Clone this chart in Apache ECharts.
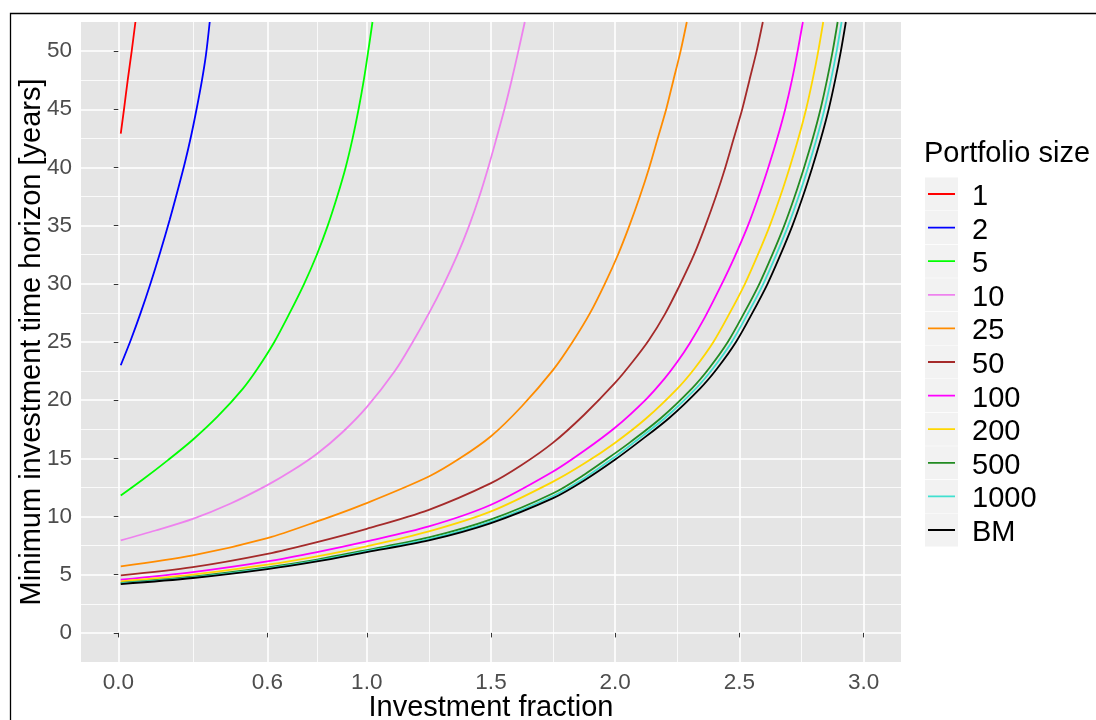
<!DOCTYPE html>
<html><head><meta charset="utf-8">
<script src="https://cdn.jsdelivr.net/npm/echarts@6/dist/echarts.min.js"></script>
<style>html,body{margin:0;padding:0;background:#fff}#c{width:1096px;height:720px}</style>
</head><body><div id="c"></div>
<script>
const seriesNames = ['1','2','5','10','25','50','100','200','500','1000','BM'];
const seriesColors = ['#FF0000','#0000FF','#00FF00','#EE82EE','#FF8C00','#A52A2A','#FF00FF','#FFD700','#228B22','#40E0D0','#000000'];

const p1 = [[0.01,42.9],[0.023,45],[0.038,47.5],[0.054,50],[0.069,52.5]];
const p2 = [[0.01,23.0],[0.05,25.15],[0.09,27.5],[0.13,30.05],[0.17,32.8],[0.207,35.5],[0.24,38.1],[0.268,40.4],[0.293,42.7],[0.315,45],[0.336,47.4],[0.353,49.7],[0.368,52.5]];
const p5 = [[0.01,11.8],[0.1,13.2],[0.2,14.85],[0.3,16.6],[0.4,18.6],[0.5,20.95],[0.56,22.7],[0.628,25],[0.69,27.5],[0.748,30],[0.799,32.5],[0.843,35],[0.881,37.5],[0.915,40],[0.943,42.5],[0.967,45],[0.988,47.5],[1.006,50],[1.023,52.5]];
const p10 = [[0.01,7.95],[0.15,8.8],[0.3,9.8],[0.45,11.1],[0.6,12.7],[0.7,13.95],[0.8,15.4],[0.9,17.2],[1.0,19.4],[1.113,22.5],[1.185,25],[1.251,27.5],[1.311,30],[1.365,32.5],[1.412,35],[1.453,37.5],[1.489,40],[1.522,42.5],[1.554,45],[1.583,47.5],[1.61,50],[1.636,52.5]];
const p25 = [[0.01,5.72],[0.3,6.66],[0.6,8.15],[0.8,9.58],[1.0,11.16],[1.25,13.44],[1.375,15.0],[1.5,16.9],[1.625,19.5],[1.75,22.6],[1.828,25],[1.899,27.5],[1.958,30],[2.011,32.5],[2.057,35],[2.099,37.5],[2.137,40],[2.171,42.5],[2.205,45],[2.234,47.5],[2.263,50],[2.288,52.5]];
const p50 = [[0.01,4.95],[0.3,5.66],[0.6,6.8],[0.8,7.81],[1.0,8.95],[1.25,10.58],[1.5,12.87],[1.625,14.45],[1.75,16.35],[1.875,18.75],[2.0,21.5],[2.07,23.3],[2.135,25.15],[2.2,27.4],[2.26,29.9],[2.317,32.5],[2.363,35],[2.405,37.5],[2.443,40],[2.477,42.5],[2.511,45],[2.54,47.5],[2.569,50],[2.594,52.5]];
const p100 = [[0.01,4.58],[0.3,5.23],[0.6,6.15],[0.8,6.95],[1.0,7.87],[1.25,9.15],[1.5,11.01],[1.75,13.87],[1.875,15.65],[2.0,17.65],[2.125,20.1],[2.2,21.9],[2.25,23.3],[2.3,24.9],[2.36,27.1],[2.42,29.6],[2.48,32.3],[2.534,35],[2.577,37.5],[2.616,40],[2.652,42.5],[2.684,45],[2.711,47.5],[2.734,50],[2.755,52.5]];
const p200 = [[0.01,4.43],[0.3,5.0],[0.6,5.86],[0.8,6.58],[1.0,7.44],[1.25,8.72],[1.5,10.44],[1.75,13.0],[1.875,14.55],[2.0,16.35],[2.125,18.45],[2.25,21.0],[2.32,22.75],[2.395,25],[2.461,27.5],[2.522,30],[2.574,32.5],[2.622,35],[2.664,37.5],[2.702,40],[2.737,42.5],[2.768,45],[2.794,47.5],[2.817,50],[2.837,52.5]];
const p500 = [[0.01,4.3],[0.3,4.84],[0.6,5.63],[0.8,6.3],[1.0,7.12],[1.25,8.2],[1.5,9.75],[1.75,12.0],[1.875,13.6],[2.0,15.45],[2.058,16.35],[2.183,18.45],[2.308,21.0],[2.378,22.75],[2.453,25],[2.519,27.5],[2.58,30],[2.632,32.5],[2.68,35],[2.722,37.5],[2.76,40],[2.795,42.5],[2.826,45],[2.852,47.5],[2.875,50],[2.895,52.5]];
const p1000 = [[0.01,4.25],[0.3,4.77],[0.6,5.55],[0.8,6.21],[1.0,7.03],[1.25,8.06],[1.5,9.57],[1.75,11.77],[1.875,13.3],[2.0,15.15],[2.074,16.35],[2.199,18.45],[2.324,21.0],[2.394,22.75],[2.469,25],[2.535,27.5],[2.596,30],[2.648,32.5],[2.696,35],[2.738,37.5],[2.776,40],[2.811,42.5],[2.842,45],[2.868,47.5],[2.891,50],[2.911,52.5]];
const pBM = [[0.01,4.2],[0.3,4.72],[0.6,5.49],[0.8,6.15],[1.0,6.95],[1.25,7.95],[1.5,9.44],[1.75,11.58],[1.875,13.1],[2.0,14.9],[2.091,16.35],[2.216,18.45],[2.341,21.0],[2.411,22.75],[2.486,25],[2.552,27.5],[2.613,30],[2.665,32.5],[2.713,35],[2.755,37.5],[2.793,40],[2.828,42.5],[2.859,45],[2.885,47.5],[2.908,50],[2.928,52.5]];
const seriesData = [p1,p2,p5,p10,p25,p50,p100,p200,p500,p1000,pBM];

const xMajorTicks = [0,0.6,1.0,1.5,2.0,2.5,3.0];
const xMinorTicks = [0.3,0.8,1.25,1.75,2.25,2.75];
const yMajorTicks = [0,5,10,15,20,25,30,35,40,45,50];
const yMinorTicks = [2.5,7.5,12.5,17.5,22.5,27.5,32.5,37.5,42.5,47.5];

const FONT = "'Liberation Sans', Arial, sans-serif";
const chart = echarts.init(document.getElementById('c'), null, {renderer:'canvas'});

const keyTop = 177.5, legendStep = 33.6, keyW = 27, keyH = 33, textDrop = 3;
const keyBoxes = seriesNames.map((n,i)=>({
  type:'rect', z:1, silent:true,
  shape:{x:925, y:keyTop + legendStep*i, width:33, height:33},
  style:{fill:'#F2F2F2'}
}));
// line-shaped legend icon; bounding box equals the key size, line sits at the key box centre
const lineIcon = 'path://M0,0L0.01,0L0,0.01Z M0,12.6L27,12.6L27,14.4L0,14.4Z M27,33L26.99,33L27,32.99Z';

const option = {
  animation:false,
  backgroundColor:'#fff',
  title:{text:'Portfolio size', left:924, top:139, padding:0,
    textStyle:{fontSize:29, fontWeight:'normal', color:'#000', fontFamily:FONT}},
  grid:{left:81, top:22, width:820, height:640, show:true, backgroundColor:'#E5E5E5', borderWidth:0,
    outerBoundsMode:'none', containLabel:false},
  xAxis:[
    {type:'value', min:-0.15, max:3.15, position:'bottom',
      axisLine:{show:false}, axisTick:{show:false, customValues:xMinorTicks},
      axisLabel:{show:false, customValues:xMinorTicks},
      splitLine:{show:true, lineStyle:{color:'#FFFFFF', width:0.8}}},
    {type:'value', min:-0.15, max:3.15, position:'bottom',
      axisLine:{show:false},
      axisTick:{show:true, customValues:xMajorTicks, length:4.5, lineStyle:{color:'#333333', width:1}},
      axisLabel:{customValues:xMajorTicks, formatter:v=>Number(v).toFixed(1), fontSize:22.5, color:'#4D4D4D', margin:9, fontFamily:FONT},
      splitLine:{show:true, lineStyle:{color:'#FFFFFF', width:1.6}},
      name:'Investment fraction', nameLocation:'middle', nameGap:31, nameMoveOverlap:false,
      nameTextStyle:{fontSize:29, color:'#000', fontFamily:FONT}}
  ],
  yAxis:[
    {type:'value', min:-2.5, max:52.5, position:'left',
      axisLine:{show:false}, axisTick:{show:false, customValues:yMinorTicks},
      axisLabel:{show:false, customValues:yMinorTicks},
      splitLine:{show:true, lineStyle:{color:'#FFFFFF', width:0.8}}},
    {type:'value', min:-2.5, max:52.5, position:'left',
      axisLine:{show:false},
      axisTick:{show:true, customValues:yMajorTicks, length:4.5, lineStyle:{color:'#333333', width:1}},
      axisLabel:{customValues:yMajorTicks, fontSize:22.5, color:'#4D4D4D', margin:9, fontFamily:FONT},
      splitLine:{show:true, lineStyle:{color:'#FFFFFF', width:1.6}},
      name:'Minimum investment time horizon [years]', nameLocation:'middle', nameGap:34.5, nameMoveOverlap:false,
      nameTextStyle:{fontSize:29, color:'#000', fontFamily:FONT}}
  ],
  legend:{orient:'vertical', left:928, top:keyTop + textDrop, padding:0, itemWidth:keyW, itemHeight:keyH, itemGap:legendStep-keyH,
    icon:lineIcon, selectedMode:false, z:5, data:seriesNames,
    textStyle:{fontSize:29, color:'#000', fontFamily:FONT, padding:[0,0,0,12]}},
  graphic:{elements:[
    ...keyBoxes,
    {type:'rect', z:10, silent:true, shape:{x:10.5, y:13.5, width:1300, height:900},
      style:{fill:null, stroke:'#000', lineWidth:1.3}}
  ]},
  series: seriesNames.map((n,i)=>({
    type:'line', name:n, data:seriesData[i], xAxisIndex:1, yAxisIndex:1,
    symbol:'none', showSymbol:false, smooth:0.3, clip:true,
    lineStyle:{color:seriesColors[i], width:1.8}, itemStyle:{color:seriesColors[i]},
    z:2+i*0.01, silent:true
  }))
};
chart.setOption(option);
</script></body></html>
